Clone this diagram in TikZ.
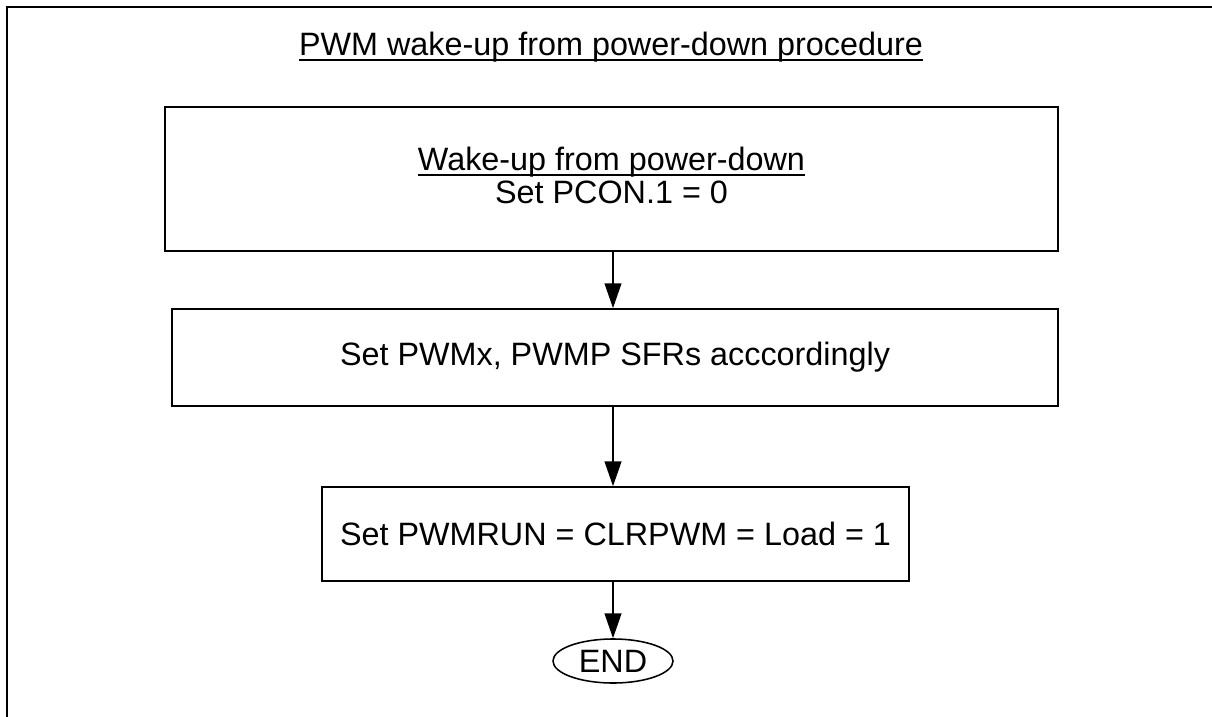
\documentclass[tikz,border=0pt]{standalone}
\usepackage{amsmath}
\usepackage{fontspec}
\setmainfont{Liberation Sans}
\usetikzlibrary{shapes.geometric,arrows.meta}

\newcommand{\ultext}[1]{\underline{\smash[b]{#1}}}

\begin{document}
\begin{tikzpicture}[x=0.025cm, y=-0.025cm, line width=1.1pt,
    font=\fontsize{23}{23.5}\selectfont,
    box/.style={draw, rectangle, inner sep=0pt},
    flow/.style={-{Triangle[length=0.62cm, width=0.42cm]}}]
      \useasboundingbox (0,0) rectangle (1212,717);

      % Define coordinates
      \coordinate (title) at (611,47);
      \coordinate (wake) at (611.5,179);
      \coordinate (wake_text) at (611.5,175);
      \coordinate (pwm) at (615,357.5);
      \coordinate (run) at (615.5,534);
      \coordinate (stop) at (613,661);

      % Draw the frame (left and top edges only)
      \draw[line width=1.5pt] (7,717) |- (1212,7);

      % Draw the title
      \node at (title) {\ultext{PWM wake-up from power-down procedure}};

      % Draw the boxes
      \node[box, minimum width=22.33cm, minimum height=3.6cm] (wake_box) at (wake) {};
      \node[align=center] at (wake_text) {\ultext{Wake-up from power-down}\\Set PCON.1 = 0};
      \node[box, minimum width=22.15cm, minimum height=2.43cm] (pwm_box) at (pwm) {Set PWMx, PWMP SFRs acccordingly};
      \node[box, minimum width=14.68cm, minimum height=2.35cm] (run_box) at (run) {Set PWMRUN = CLRPWM = Load = 1};

      % Draw the end (oval containing END)
      \node[draw, ellipse, inner sep=0pt, minimum width=3cm, minimum height=1.1cm] (stop_oval) at (stop) {END};

      % Draw arrows between steps
      \draw[flow] (wake_box.south -| stop) -- (pwm_box.north -| stop);
      \draw[flow] (pwm_box.south -| stop) -- (run_box.north -| stop);
      \draw[flow] (run_box.south -| stop) -- (stop_oval.north);
\end{tikzpicture}
\end{document}
